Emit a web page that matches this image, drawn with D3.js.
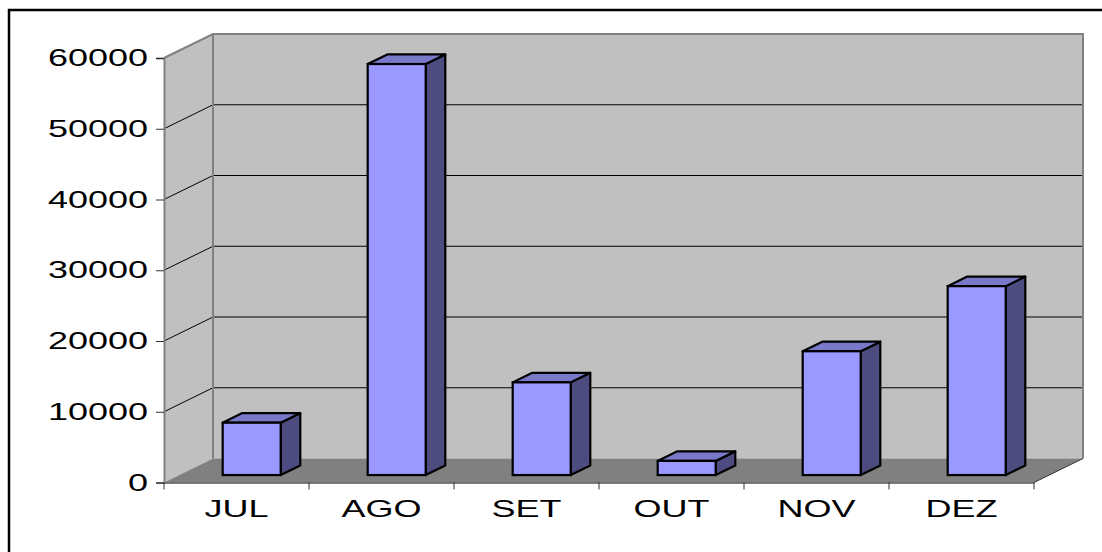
<html><head><title>Mensal</title>
<style>
    body { margin: 0; background: #fff; overflow: hidden; }
    svg text { font-family: 'Liberation Sans', Arial, sans-serif; font-size: 24px; fill: #000; }
</style>
</head>
<body>
<svg id="chart" width="1102" height="552"></svg>
<script src="https://d3js.org/d3.v7.min.js"></script>
<script>
    // data
    const months = ["JUL", "AGO", "SET", "OUT", "NOV", "DEZ"];
    const values = [7400, 58100, 13100, 2000, 17500, 26700];
    const yTicks = [0, 10000, 20000, 30000, 40000, 50000, 60000];

    const svg = d3.select("#chart");

    // front plane scales, depth vector for the 3D walls
    const x = d3.scaleBand().domain(months).range([164, 1034]);
    const y = d3.scaleLinear().domain([0, 60000]).range([482.5, 58]);
    const dep = {x: 49, y: -24};
    const x0 = x.range()[0], x1 = x.range()[1];
    const yTop = y(60000), yBot = y(0);
    const stretch = 1.5; // labels in the original are drawn wide

    // outer frame (right and bottom fall outside the picture)
    svg.append("rect")
        .attr("x", 9).attr("y", 10).attr("width", 1200).attr("height", 700)
        .attr("fill", "none").attr("stroke", "#000").attr("stroke-width", 2.5);

    // back wall
    svg.append("rect")
        .attr("x", x0 + dep.x).attr("y", yTop + dep.y)
        .attr("width", x1 - x0).attr("height", yBot - yTop)
        .attr("fill", "#c0c0c0");

    // left wall
    svg.append("polygon")
        .attr("points", [[x0, yTop], [x0 + dep.x, yTop + dep.y], [x0 + dep.x, yBot + dep.y], [x0, yBot]].join(" "))
        .attr("fill", "#c0c0c0");

    // floor
    svg.append("polygon")
        .attr("points", [[x0, yBot], [x1, yBot], [x1 + dep.x, yBot + dep.y], [x0 + dep.x, yBot + dep.y]].join(" "))
        .attr("fill", "#808080");

    // gridlines on back wall and left wall
    const grid = yTicks.filter(t => t > 0 && t < 60000);
    svg.append("g").selectAll("line").data(grid).join("line")
        .attr("x1", x0 + dep.x).attr("x2", x1 + dep.x)
        .attr("y1", d => y(d) + dep.y).attr("y2", d => y(d) + dep.y)
        .attr("stroke", "#000").attr("stroke-width", 1);
    svg.append("g").selectAll("line").data(grid).join("line")
        .attr("x1", x0).attr("x2", x0 + dep.x)
        .attr("y1", d => y(d)).attr("y2", d => y(d) + dep.y)
        .attr("stroke", "#000").attr("stroke-width", 1);

    // wall edges
    svg.append("path")
        .attr("d", `M${x0},${yTop} L${x0 + dep.x},${yTop + dep.y} L${x1 + dep.x},${yTop + dep.y} L${x1 + dep.x},${yBot + dep.y}`)
        .attr("fill", "none").attr("stroke", "#808080").attr("stroke-width", 2);
    svg.append("line")
        .attr("x1", x0 + dep.x).attr("x2", x0 + dep.x)
        .attr("y1", yTop + dep.y).attr("y2", yBot + dep.y)
        .attr("stroke", "#808080").attr("stroke-width", 2);
    svg.append("line")
        .attr("x1", x1).attr("x2", x1 + dep.x)
        .attr("y1", yBot).attr("y2", yBot + dep.y)
        .attr("stroke", "#333").attr("stroke-width", 1);

    // bars
    const d0 = 0.31, d1 = 0.71;
    const bw = x.bandwidth() * 0.4;
    const bars = svg.append("g").selectAll("g").data(months).join("g");
    bars.each(function(m, i) {
        const g = d3.select(this);
        const fx = x(m) + x.bandwidth() * 0.3 + dep.x * d0;
        const fyT = y(values[i]) + dep.y * d0;
        const fyB = y(0) + dep.y * d0;
        const ox = dep.x * (d1 - d0), oy = dep.y * (d1 - d0);
        g.append("polygon")
            .attr("points", [[fx + bw, fyT], [fx + bw + ox, fyT + oy], [fx + bw + ox, fyB + oy], [fx + bw, fyB]].join(" "))
            .attr("fill", "#4c4c80").attr("stroke", "#000").attr("stroke-width", 2.2).attr("stroke-linejoin", "round");
        g.append("polygon")
            .attr("points", [[fx, fyT], [fx + ox, fyT + oy], [fx + bw + ox, fyT + oy], [fx + bw, fyT]].join(" "))
            .attr("fill", "#7979c9").attr("stroke", "#000").attr("stroke-width", 2.2).attr("stroke-linejoin", "round");
        g.append("rect")
            .attr("x", fx).attr("y", fyT).attr("width", bw).attr("height", fyB - fyT)
            .attr("fill", "#9999ff").attr("stroke", "#000").attr("stroke-width", 2.2);
    });

    // y axis
    const yAxis = svg.append("g")
        .attr("transform", `translate(${x0},0)`)
        .call(d3.axisLeft(y).tickValues(yTicks).tickFormat(d3.format("d")).tickSize(8).tickPadding(8));
    yAxis.select(".domain").attr("stroke", "#808080").attr("stroke-width", 2);
    yAxis.selectAll(".tick line").attr("stroke", "#333");
    yAxis.selectAll("text")
        .attr("x", 0)
        .attr("transform", `translate(-16,0) scale(${stretch},1)`)
        .style("font-size", "24px");

    // x axis: labels at band centres, ticks at band edges
    const xAxis = svg.append("g")
        .attr("transform", `translate(0,${yBot})`)
        .call(d3.axisBottom(x).tickSize(0).tickPadding(17));
    xAxis.select(".domain").attr("stroke", "#555").attr("stroke-width", 1.5);
    xAxis.selectAll("text")
        .attr("transform", `scale(${stretch},1)`)
        .style("font-size", "24px");
    const edges = months.map(m => x(m)).concat([x1]);
    svg.append("g").selectAll("line").data(edges).join("line")
        .attr("x1", d => d).attr("x2", d => d)
        .attr("y1", yBot).attr("y2", yBot + 7)
        .attr("stroke", "#333").attr("stroke-width", 1);
</script>
</body>
</html>
